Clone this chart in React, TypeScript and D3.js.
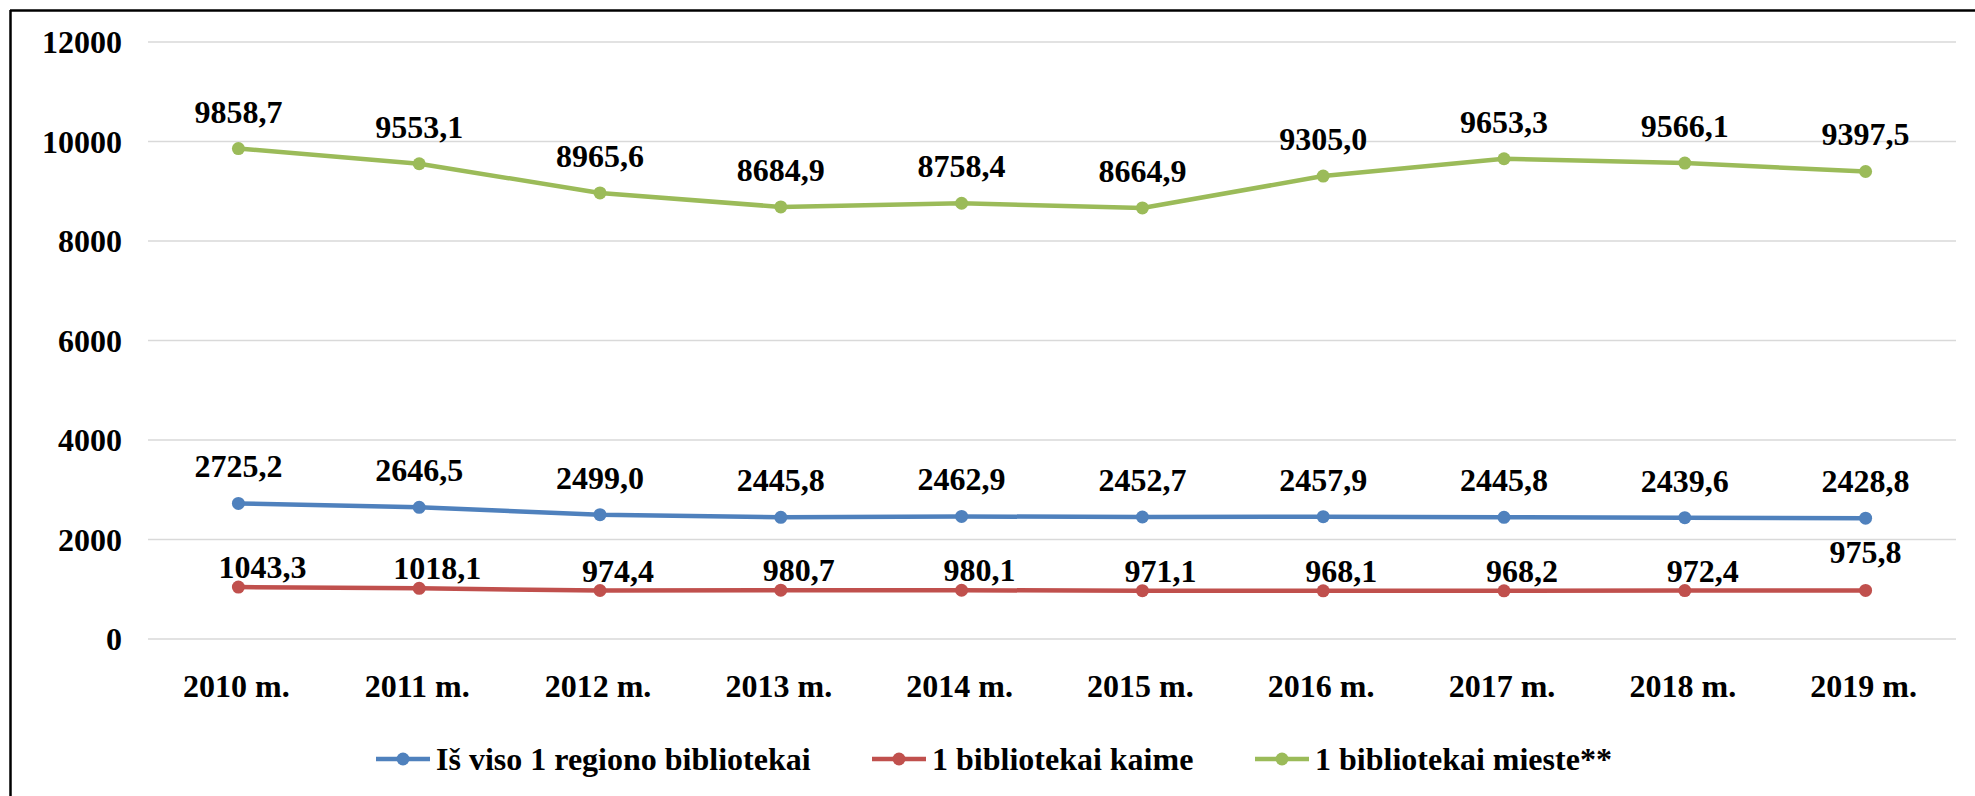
import React from 'react';
import * as d3 from 'd3';

// chart data
const years = ['2010 m.', '2011 m.', '2012 m.', '2013 m.', '2014 m.', '2015 m.', '2016 m.', '2017 m.', '2018 m.', '2019 m.'];
const totalPerLibrary = [2725.2, 2646.5, 2499.0, 2445.8, 2462.9, 2452.7, 2457.9, 2445.8, 2439.6, 2428.8];
const villagePerLibrary = [1043.3, 1018.1, 974.4, 980.7, 980.1, 971.1, 968.1, 968.2, 972.4, 975.8];
const cityPerLibrary = [9858.7, 9553.1, 8965.6, 8684.9, 8758.4, 8664.9, 9305.0, 9653.3, 9566.1, 9397.5];
const yTicks = [0, 2000, 4000, 6000, 8000, 10000, 12000];
const seriesNames = ['Iš viso 1 regiono bibliotekai', '1 bibliotekai kaime', '1 bibliotekai mieste**'];

const WIDTH = 1975;
const HEIGHT = 796;
const FONT = '"Liberation Serif", "Times New Roman", serif';

const series = [
  { name: seriesNames[0], values: totalPerLibrary, color: '#4F81BD', labelDx: 0, labelDy: -26 },
  { name: seriesNames[1], values: villagePerLibrary, color: '#C0504D', labelDx: 18, labelDy: -9 },
  { name: seriesNames[2], values: cityPerLibrary, color: '#9BBB59', labelDx: 0, labelDy: -26 },
];

// legend item start positions (marker left edge)
const legendX = [376, 872, 1255];

const fmt = (v: number) => v.toFixed(1).replace('.', ',');

export default function App() {
  const x = d3.scalePoint<string>().domain(years).range([148, 1956]).padding(0.5);
  const y = d3.scaleLinear().domain([0, 12000]).range([639, 42]);

  const line = d3
    .line<number>()
    .x((_, i) => x(years[i]) as number)
    .y((d) => y(d));

  return (
    <svg
      width={WIDTH}
      height={HEIGHT}
      style={{ position: 'absolute', left: 0, top: 0, background: '#fff' }}
      fontFamily={FONT}
      fontWeight="bold"
    >
      <rect x={0} y={0} width={WIDTH} height={HEIGHT} fill="#fff" />
      {/* frame: only top and left edges are inside the picture */}
      <line x1={10} y1={10.5} x2={WIDTH} y2={10.5} stroke="#000" strokeWidth={2.5} />
      <line x1={10.5} y1={10} x2={10.5} y2={HEIGHT} stroke="#000" strokeWidth={2.5} />

      {yTicks.map((t) => (
        <g key={t}>
          <line x1={148} x2={1956} y1={y(t)} y2={y(t)} stroke="#D9D9D9" strokeWidth={1.5} />
          <text x={122} y={y(t) + 11} textAnchor="end" fontSize={32} fill="#000">
            {t}
          </text>
        </g>
      ))}

      {years.map((yr) => (
        <text key={yr} x={(x(yr) as number) - 2} y={697} textAnchor="middle" fontSize={32} fill="#000">
          {yr}
        </text>
      ))}

      {series.map((s) => (
        <g key={s.name}>
          <path d={line(s.values) || ''} fill="none" stroke={s.color} strokeWidth={4.5} strokeLinejoin="round" />
          {s.values.map((v, i) => (
            <circle key={i} cx={x(years[i]) as number} cy={y(v)} r={6.5} fill={s.color} />
          ))}
        </g>
      ))}

      {series.map((s, si) =>
        s.values.map((v, i) => {
          // the last village label was lifted above the line in the original
          const lifted = si === 1 && i === s.values.length - 1;
          const dx = lifted ? 0 : i === 0 && si === 1 ? 24 : s.labelDx;
          const dy = lifted ? -27 : s.labelDy;
          return (
            <text
              key={`${si}-${i}`}
              x={(x(years[i]) as number) + dx}
              y={y(v) + dy}
              textAnchor="middle"
              fontSize={32}
              fill="#000"
            >
              {fmt(v)}
            </text>
          );
        }),
      )}

      {series.map((s, i) => (
        <g key={s.name} transform={`translate(${legendX[i]},759)`}>
          <line x1={0} x2={54} y1={0} y2={0} stroke={s.color} strokeWidth={4.5} />
          <circle cx={27} cy={0} r={6.5} fill={s.color} />
          <text x={60} y={11} fontSize={32} fill="#000">
            {s.name}
          </text>
        </g>
      ))}
    </svg>
  );
}
